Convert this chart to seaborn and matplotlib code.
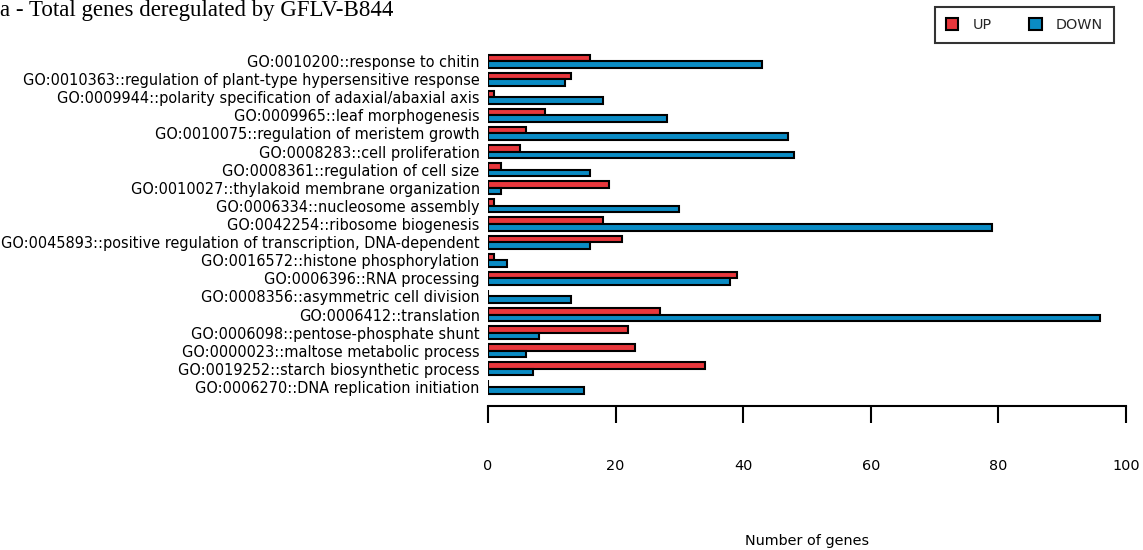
import matplotlib
matplotlib.use("Agg")
import matplotlib.pyplot as plt
import seaborn as sns
import pandas as pd
from matplotlib.patches import Patch

go_terms = [
    "GO:0010200::response to chitin",
    "GO:0010363::regulation of plant-type hypersensitive response",
    "GO:0009944::polarity specification of adaxial/abaxial axis",
    "GO:0009965::leaf morphogenesis",
    "GO:0010075::regulation of meristem growth",
    "GO:0008283::cell proliferation",
    "GO:0008361::regulation of cell size",
    "GO:0010027::thylakoid membrane organization",
    "GO:0006334::nucleosome assembly",
    "GO:0042254::ribosome biogenesis",
    "GO:0045893::positive regulation of transcription, DNA-dependent",
    "GO:0016572::histone phosphorylation",
    "GO:0006396::RNA processing",
    "GO:0008356::asymmetric cell division",
    "GO:0006412::translation",
    "GO:0006098::pentose-phosphate shunt",
    "GO:0000023::maltose metabolic process",
    "GO:0019252::starch biosynthetic process",
    "GO:0006270::DNA replication initiation",
]
up_counts = [16, 13, 1, 9, 6, 5, 2, 19, 1, 18, 21, 1, 39, 0, 27, 22, 23, 34, 0]
down_counts = [43, 12, 18, 28, 47, 48, 16, 2, 30, 79, 16, 3, 38, 13, 96, 8, 6, 7, 15]
directions = ["UP", "DOWN"]
x_ticks = [0, 20, 40, 60, 80, 100]

df = pd.DataFrame({
    "term": go_terms * 2,
    "genes": up_counts + down_counts,
    "direction": [directions[0]] * len(go_terms) + [directions[1]] * len(go_terms),
})

palette = {"UP": "#E8373C", "DOWN": "#0A8BC4"}

sns.set_style("white")
plt.rcParams["font.family"] = ["DejaVu Sans"]
FS = 10.4

W, H = 1143, 550
fig = plt.figure(figsize=(W / 100, H / 100), dpi=100)
ax_left, ax_right = 488, 1126
ax_top, ax_bottom = 48, 406
ax = fig.add_axes([ax_left / W, 1 - ax_bottom / H, (ax_right - ax_left) / W, (ax_bottom - ax_top) / H])

sns.barplot(data=df, y="term", x="genes", hue="direction", order=go_terms,
            hue_order=directions, palette=palette, orient="h", width=0.72,
            edgecolor="black", linewidth=1.5, saturation=1, legend=False, ax=ax)

n = len(go_terms)
ax.set_xlim(0, 100)
ax.set_ylim(n - 1 + 1.05, -0.72)

for side in ["top", "right", "left"]:
    ax.spines[side].set_visible(False)
ax.spines["bottom"].set_bounds(0, 100)
ax.spines["bottom"].set_linewidth(1.5)
ax.spines["bottom"].set_color("black")

ax.set_xticks(x_ticks)
ax.set_xticklabels([str(t) for t in x_ticks])
ax.tick_params(axis="x", direction="out", length=12.5, width=1.5, color="black",
               pad=26, labelsize=FS, labelcolor="black", bottom=True)
ax.tick_params(axis="y", length=0, pad=6, labelsize=10.45, labelcolor="black")
ax.set_xlabel("")
ax.set_ylabel("")
for tk in ax.xaxis.get_major_ticks():
    tk.tick1line.set_clip_on(False)

fig.text((ax_left + ax_right) / 2 / W, 1 - 541 / H, "Number of genes",
         ha="center", va="center", fontsize=FS, color="black")

fig.text(0, 1 - 16 / H, "a - Total genes deregulated by GFLV-B844",
         ha="left", va="baseline", fontsize=16.5, color="black",
         family=["Liberation Serif", "DejaVu Serif"])

handles = [Patch(facecolor=palette[d], edgecolor="black", linewidth=1.5, label=d) for d in directions]
leg = fig.legend(handles=handles, ncol=2, loc="center",
                 bbox_to_anchor=((935 + 1114) / 2 / W, 1 - 25 / H),
                 frameon=True, fancybox=False, fontsize=FS,
                 handlelength=0.85, handleheight=0.85, handletextpad=1.0,
                 columnspacing=2.6, borderpad=0.75, edgecolor="black")
leg.get_frame().set_linewidth(1.5)

fig.savefig("out.png", dpi=100, facecolor="white")
